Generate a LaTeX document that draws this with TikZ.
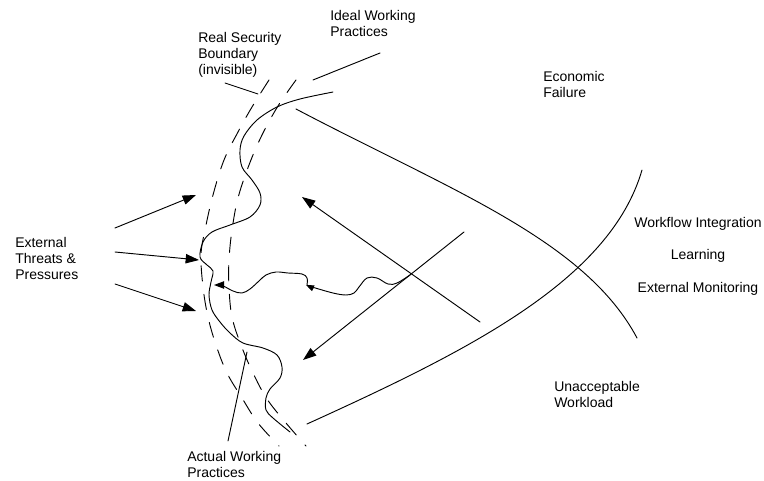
\documentclass[tikz,border=0pt]{standalone}
\usepackage{fontspec}
\setmainfont{Liberation Sans}
\usetikzlibrary{arrows.meta}
\begin{document}
\begin{tikzpicture}[x=0.75pt,y=-0.75pt,
  ln/.style={line width=0.7pt, line cap=round, line join=round},
  dashline/.style={ln, dash pattern=on 11.5pt off 10pt},
  bigarrow/.style={ln,-{Triangle[length=10pt,width=7pt]}},
  smallarrow/.style={ln,-{Triangle[length=6pt,width=4.5pt]}},
  midarrow/.style={ln,-{Triangle[length=7.5pt,width=5.5pt]}},
  lbl/.style={font=\fontsize{10.5}{12}\selectfont, inner sep=0pt, align=left, anchor=north west},
  clbl/.style={font=\fontsize{10.5}{12}\selectfont, inner sep=0pt, anchor=north}]
\useasboundingbox (0,0) rectangle (764,481);

% labels
\node[lbl] (rsb) at (198,32) {Real Security\\Boundary\\(invisible)};
\node[lbl] (iwp) at (330,10) {Ideal Working\\Practices};
\node[lbl] (ecf) at (543,71) {Economic\\Failure};
\node[lbl] (ext) at (15,237) {External\\Threats \&\\Pressures};
\node[clbl] (wfi) at (698,217) {Workflow Integration};
\node[clbl] (lrn) at (698,249) {Learning};
\node[clbl] (exm) at (698,282) {External Monitoring};
\node[lbl] (uaw) at (554,381) {Unacceptable\\Workload};
\node[lbl] (awp) at (187,451) {Actual Working\\Practices};

% pointer lines
\coordinate (rsbA) at (225,83);  \coordinate (rsbB) at (258,94);
\coordinate (iwpA) at (313,80);  \coordinate (iwpB) at (380,53);
\coordinate (awpA) at (228,441); \coordinate (awpB) at (247,352);
\draw[ln] (rsbA) -- (rsbB);
\draw[ln] (iwpA) -- (iwpB);
\draw[ln] (awpA) -- (awpB);

% dashed boundaries
\draw[dashline] plot[smooth, tension=0.6] coordinates {(269,80) (252,107) (238,132) (224,160) (213,195) (205,230) (201,255) (203,287) (208,317) (216,345) (227,373) (242,398) (258,423) (279,446)};
\draw[dashline] plot[smooth, tension=0.6] coordinates {(296,80) (278,106) (262,135) (249,165) (238,198) (232,230) (229,260) (229,287) (232,317) (241,345) (253,373) (267,399) (286,423) (306,446)};

% actual working practices curve
\draw[ln] plot[smooth, tension=0.55] coordinates {(333,92) (300,99) (277,107) (257,120) (244,136) (240,150) (242,167) (252,180) (260,193) (260,205) (250,217) (230,225) (212,232) (203,242) (200,257) (207,265) (213,271) (211,282) (209,295) (212,310) (220,322) (230,333) (243,343) (263,348) (277,355) (282,367) (280,378) (270,389) (266,398) (266,410) (273,418) (290,432)};

% economic failure and workload boundaries
\coordinate (ef0) at (296,109); \coordinate (ef1) at (637,338);
\coordinate (uw0) at (307,424); \coordinate (uw1) at (642,170);
\draw[ln] (ef0) .. controls (450,190) and (585,240) .. (ef1);
\draw[ln] (uw0) .. controls (470,350) and (610,280) .. (uw1);

% external threats arrows
\coordinate (t1a) at (115,228); \coordinate (t1b) at (196,195);
\coordinate (t2a) at (115,252); \coordinate (t2b) at (199,260);
\coordinate (t3a) at (115,284); \coordinate (t3b) at (196,311);
\draw[bigarrow] (t1a) -- (t1b);
\draw[bigarrow] (t2a) -- (t2b);
\draw[bigarrow] (t3a) -- (t3b);

% gradients
\coordinate (g1a) at (480,322); \coordinate (g1b) at (302,197);
\coordinate (g2a) at (464,232); \coordinate (g2b) at (303,360);
\draw[bigarrow] (g1a) -- (g1b);
\draw[bigarrow] (g2a) -- (g2b);

% wavy counter-gradient
\draw[smallarrow] plot[smooth, tension=0.6] coordinates {(410,275) (397,283) (388,284) (377,278) (367,278) (359,287) (354,293) (346,295) (333,293) (312,287) (306,285)};
\draw[midarrow] plot[smooth, tension=0.6] coordinates {(307,285) (307,278) (302,274) (288,273) (276,272) (266,275) (259,281) (250,289) (242,293) (233,291) (223,286) (214,285)};
\end{tikzpicture}
\end{document}
